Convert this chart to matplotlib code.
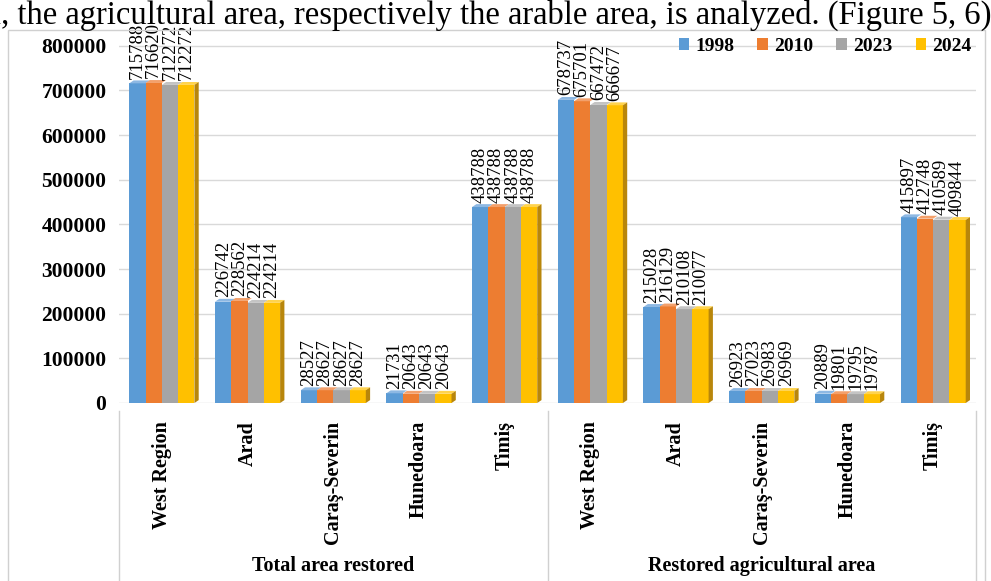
import matplotlib
matplotlib.use("Agg")
import matplotlib.pyplot as plt
import matplotlib.transforms as mtransforms
from matplotlib.patches import Polygon, Patch, Rectangle

plt.rcParams['font.family'] = ['Liberation Serif', 'DejaVu Serif']

# restored areas (ha) per county, two blocks of five categories
regions = ["West Region", "Arad", "Caraş-Severin", "Hunedoara", "Timiş"]
groups = ["Total area restored", "Restored agricultural area"]
years = ["1998", "2010", "2023", "2024"]

v1998 = [715788, 226742, 28527, 21731, 438788, 678737, 215028, 26923, 20889, 415897]
v2010 = [716620, 228562, 28627, 20643, 438788, 675701, 216129, 27023, 19801, 412748]
v2023 = [712272, 224214, 28627, 20643, 438788, 667472, 210108, 26983, 19795, 410589]
v2024 = [712272, 224214, 28627, 20643, 438788, 666677, 210077, 26969, 19787, 409844]

colors = ["#5B9BD5", "#ED7D31", "#A5A5A5", "#FFC000"]
tops = ["#8DB8E3", "#F3A06B", "#C4C4C4", "#FFD34D"]

series = [v1998, v2010, v2023, v2024]
labels = regions + regions

fig = plt.figure(figsize=(9.91, 5.81), dpi=100)

# running text of the page above the chart
fig.text(-0.008, 1.0, "l, the agricultural area, respectively the arable area, is analyzed. (Figure 5, 6)",
         fontsize=23.5, va="top", ha="left", color="black")

# chart frame
fig.patches.append(Rectangle((8 / 991, -0.01), 977 / 991, 1 - 30 / 581 + 0.01,
                             transform=fig.transFigure, fill=False,
                             edgecolor="#D0D0D0", linewidth=1))

ax = fig.add_axes([119 / 991, 1 - 403 / 581, (976 - 119) / 991, (403 - 10) / 581])
ax.set_xlim(-0.5, 9.5)
ax.set_ylim(0, 880000)

bw = 0.19
dx = 0.05     # depth offset of the 3-d faces, category units
dy = 6500     # depth offset, value units
n = len(labels)

for i in range(n):
    for j, vals in enumerate(series):
        x0 = i - 2 * bw + j * bw
        h = vals[i]
        ax.bar(x0, h, width=bw, align="edge", color=colors[j], linewidth=0, zorder=3)
        ax.add_patch(Polygon([(x0, h), (x0 + bw, h), (x0 + bw + dx, h + dy), (x0 + dx, h + dy)],
                             closed=True, facecolor=tops[j], edgecolor="none", zorder=3))
        ax.text(x0 + bw / 2, h + 10000, str(h), rotation=90, ha="center", va="bottom",
                fontsize=13.5, color="black", zorder=4)
    # darker side face of the cluster
    x1 = i + 2 * bw
    hl = series[-1][i]
    ax.add_patch(Polygon([(x1, 0), (x1 + dx, dy), (x1 + dx, hl + dy), (x1, hl)],
                         closed=True, facecolor="#B8860B", edgecolor="none", zorder=3))

yt = list(range(0, 800001, 100000))
ax.set_yticks(yt)
ax.set_yticklabels([str(t) for t in yt], fontweight="bold", fontsize=15.5)
for t in yt:
    ax.axhline(t, color="#D9D9D9", linewidth=1, zorder=0)

ax.set_xticks(range(n))
ax.set_xticklabels(labels, rotation=90, fontweight="bold", fontsize=14.5, va="top")
ax.tick_params(axis="x", length=0, pad=13)
ax.tick_params(axis="y", length=0, pad=9)
for s in ax.spines.values():
    s.set_visible(False)

# hierarchical category axis: separators and group captions
trans = mtransforms.blended_transform_factory(ax.transData, ax.transAxes)
for xs in [-0.5, 4.5, 9.5]:
    ax.plot([xs, xs], [-0.02, -0.5], transform=trans, color="#D0D0D0",
            linewidth=1, clip_on=False)
for k, g in enumerate(groups):
    ax.text(2 + 5 * k, -0.415, g, transform=trans, ha="center", va="center",
            fontweight="bold", fontsize=14.5)

handles = [Patch(facecolor=c, edgecolor="none") for c in colors]
ax.legend(handles, years, loc="center right", bbox_to_anchor=(1.015, 0.908), ncol=4,
          frameon=False, prop={"weight": "bold", "size": 14},
          handlelength=0.55, handleheight=0.55, handletextpad=0.3, columnspacing=1.2)

fig.savefig("out.png", dpi=100)
